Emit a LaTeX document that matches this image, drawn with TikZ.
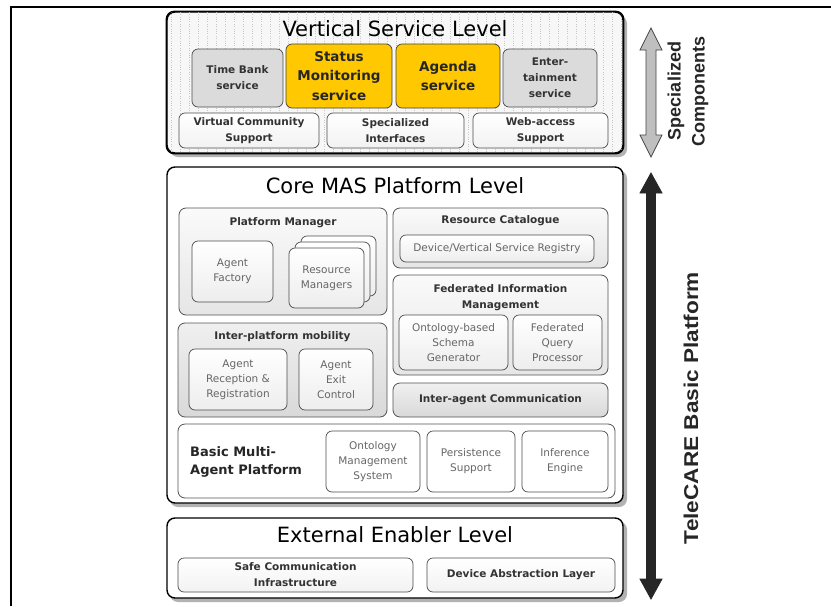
\documentclass[tikz,border=0pt]{standalone}
\usepackage{fontspec}
\setmainfont{DejaVu Sans}
\newfontfamily\arialfont{Liberation Sans}
\definecolor{yel}{HTML}{FFC800}
\begin{document}
\begin{tikzpicture}[x=1pt,y=-1pt,
  every node/.style={inner sep=0pt, align=center},
  lvl/.style={draw=black, line width=1.4pt, rounded corners=8pt, fill=white},
  shad/.style={fill=gray!60, rounded corners=8pt},
  grp/.style={draw=gray!65!black, line width=0.8pt, rounded corners=7pt, top color=gray!4, bottom color=gray!20},
  grpdark/.style={draw=gray!65!black, line width=0.8pt, rounded corners=7pt, top color=gray!12, bottom color=gray!30},
  lite/.style={font=\fontsize{10.5}{15}\selectfont, text=black!60},
  bl/.style={font=\bfseries\fontsize{10.5}{16}\selectfont, text=black!80},
  comp/.style={draw=gray!60!black, line width=0.7pt, rounded corners=6pt, top color=white, bottom color=gray!14, lite},
  svc/.style={draw=gray!60!black, line width=0.7pt, rounded corners=6pt, fill=gray!28, bl},
  ysvc/.style={draw=gray!50!black, line width=0.7pt, rounded corners=6pt, fill=yel, font=\bfseries\fontsize{13.5}{19.5}\selectfont, text=black!85},
  wbox/.style={draw=gray!60!black, line width=0.7pt, rounded corners=6pt, top color=white, bottom color=gray!10, bl},
  ttl/.style={font=\fontsize{21}{24}\selectfont},
  sidetxt/.style={font=\arialfont\bfseries, text=black!85, rotate=90}
]
\useasboundingbox[fill=white] (0,0) rectangle (831,606);
% frame
\draw[line width=2pt] (11,606) -- (11,6.5) -- (831,6.5);

% ---------- Vertical Service Level ----------
\fill[shad] (170,15.5) rectangle (627,157);
\node[lvl, fill=gray!6, minimum width=456, minimum height=141] (vsl) at (395,82.5) {};
\begin{scope}
  \clip[rounded corners=8pt] ([shift={(1,-1)}]vsl.north west) rectangle ([shift={(-1,1)}]vsl.south east);
  \draw[gray!45, dotted, step=9] (vsl.north west) grid (vsl.south east);
\end{scope}
\draw[draw=black, line width=1.4pt, rounded corners=8pt] (vsl.north west) rectangle (vsl.south east);
\node[ttl] (vslt) at (395,29) {Vertical Service Level};
\node[svc, minimum width=91, minimum height=58] (tbs) at (237.5,78) {Time Bank\\service};
\node[ysvc, minimum width=106, minimum height=64] (sms) at (339,76) {Status\\Monitoring\\service};
\node[ysvc, minimum width=104, minimum height=64] (ags) at (448,76) {Agenda\\service};
\node[svc, minimum width=94, minimum height=58] (ent) at (550,78) {Enter-\\tainment\\service};
\node[wbox, minimum width=140, minimum height=35] (vcs) at (249,130.5) {Virtual Community\\Support};
\node[wbox, minimum width=137, minimum height=35] (spi) at (395.5,130.5) {Specialized\\Interfaces};
\node[wbox, minimum width=135, minimum height=35] (was) at (540.5,130.5) {Web-access\\Support};

% ---------- Core MAS Platform Level ----------
\fill[shad] (170,170.5) rectangle (627,507);
\node[lvl, minimum width=456, minimum height=336] (core) at (395,335) {};
\node[ttl] (coret) at (395,186) {Core MAS Platform Level};

% Platform Manager
\node[grp, minimum width=208, minimum height=107] (pm) at (283,261.5) {};
\node[bl] (pmt) at (283,223) {Platform Manager};
\node[comp, minimum width=81, minimum height=61] (af) at (232.5,271.5) {Agent\\Factory};
\node[comp, minimum width=75, minimum height=60] (rm3) at (338.5,266) {};
\node[comp, minimum width=75, minimum height=60] (rm2) at (332.5,272) {};
\node[comp, minimum width=75, minimum height=60] (rm) at (326.5,278) {Resource\\Managers};

% Resource Catalogue
\node[grp, minimum width=215, minimum height=60] (rc) at (500.5,238) {};
\node[bl] (rct) at (500.5,221) {Resource Catalogue};
\node[comp, minimum width=194, minimum height=27] (reg) at (497,248.5) {Device/Vertical Service Registry};

% Federated Information Management
\node[grp, minimum width=215, minimum height=100] (fim) at (500.5,325) {};
\node[bl] (fimt) at (500.5,298) {Federated Information\\Management};
\node[comp, minimum width=109, minimum height=55] (osg) at (453.5,342.5) {Ontology-based\\Schema\\Generator};
\node[comp, minimum width=89, minimum height=55] (fqp) at (557.5,342.5) {Federated\\Query\\Processor};

% Inter-platform mobility
\node[grpdark, minimum width=209, minimum height=94] (ipm) at (282.5,370) {};
\node[bl] (ipmt) at (282.5,337) {Inter-platform mobility};
\node[comp, minimum width=98, minimum height=61] (arr) at (238,379.5) {Agent\\Reception \&\\Registration};
\node[comp, minimum width=74, minimum height=61] (aec) at (336,379.5) {Agent\\Exit\\Control};

% Inter-agent Communication
\node[grpdark, minimum width=215, minimum height=34, bl] (iac) at (500.5,400) {Inter-agent Communication};

% Basic Multi-Agent Platform
\node[draw=gray!65!black, line width=0.8pt, rounded corners=7pt, fill=white, minimum width=437, minimum height=74] (bmap) at (396.5,461) {};
\node[anchor=west, align=left, font=\bfseries\fontsize{13}{18}\selectfont, text=black!85] (bmapt) at (190,462) {Basic Multi-\\Agent Platform};
\node[comp, top color=white, bottom color=white, minimum width=94, minimum height=61] (oms) at (373,461.5) {Ontology\\Management\\System};
\node[comp, top color=white, bottom color=white, minimum width=88, minimum height=61] (ps) at (471,461.5) {Persistence\\Support};
\node[comp, top color=white, bottom color=white, minimum width=86, minimum height=61] (ie) at (565,461.5) {Inference\\Engine};

% ---------- External Enabler Level ----------
\fill[shad] (170,521.5) rectangle (627,602);
\node[lvl, minimum width=456, minimum height=80] (ext) at (395,558) {};
\node[ttl] (extt) at (395,535) {External Enabler Level};
\node[wbox, minimum width=235, minimum height=34] (sci) at (295.5,575) {Safe Communication\\Infrastructure};
\node[wbox, minimum width=188, minimum height=34] (dal) at (521,575) {Device Abstraction Layer};

% ---------- side arrows ----------
\draw[gray!55!black, line width=0.8pt, fill=gray!50]
  (651,28) -- (662,50) -- (656,50) -- (656,135) -- (662,135) -- (651,157)
  -- (640,135) -- (646,135) -- (646,50) -- (640,50) -- cycle;
\draw[black!85, line width=0.8pt, fill=gray!30!black]
  (651,173) -- (662,193) -- (655.5,193) -- (655.5,579) -- (662,579) -- (651,599)
  -- (640,579) -- (646.5,579) -- (646.5,193) -- (640,193) -- cycle;

\node[sidetxt, font=\arialfont\bfseries\fontsize{18}{24}\selectfont] (spc) at (688,91) {Specialized\\Components};
\node[sidetxt, font=\arialfont\bfseries\fontsize{20}{22}\selectfont] (tbp) at (691,408) {\scalebox{1.13}[1]{TeleCARE Basic Platform}};
\end{tikzpicture}
\end{document}
